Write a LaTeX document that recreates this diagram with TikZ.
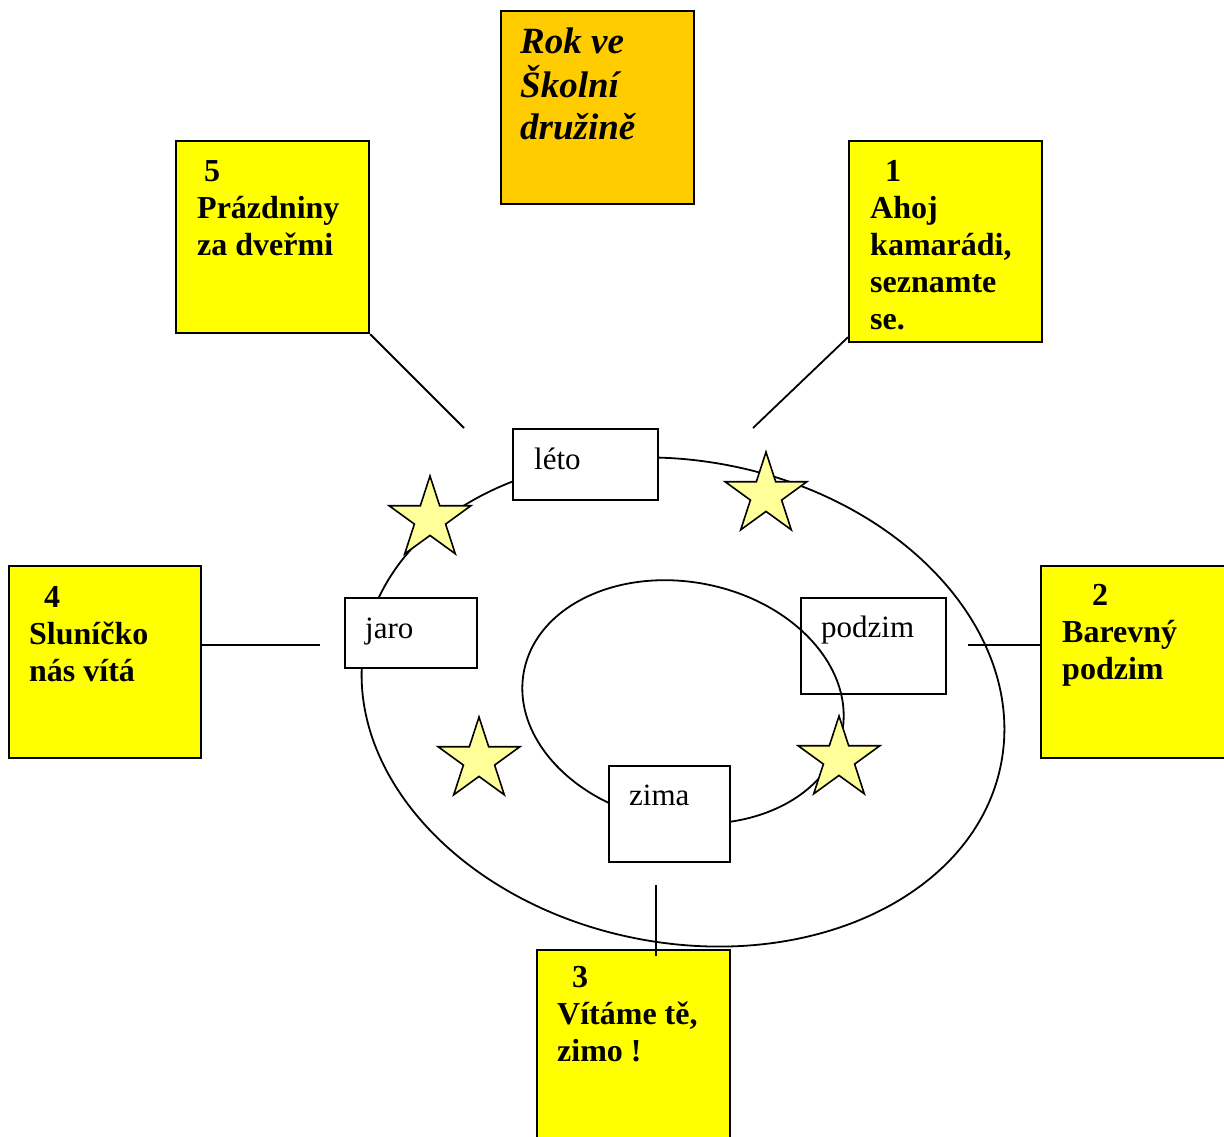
\documentclass[tikz,border=0pt]{standalone}
\usepackage{fontspec}
\setmainfont{Liberation Serif}
\usetikzlibrary{shapes.geometric,calc}
\definecolor{boxyellow}{HTML}{FFFF00}
\definecolor{titleorange}{HTML}{FFCC00}
\definecolor{starfill}{HTML}{FFFF99}
\begin{document}
\begin{tikzpicture}[x=1pt,y=-1pt,
  bigbox/.style={draw, line width=2.2pt, rectangle, inner sep=0pt, anchor=north west, fill=boxyellow},
  smallbox/.style={draw, line width=2pt, rectangle, inner sep=0pt, anchor=north west},
  btext/.style={anchor=base west, inner sep=0pt, align=left, font=\fontsize{32}{37}\selectfont\bfseries},
  ttext/.style={anchor=base west, inner sep=0pt, align=left, font=\fontsize{37}{43}\selectfont\bfseries\itshape},
  lbl/.style={anchor=base west, inner sep=0pt, font=\fontsize{31}{36}\selectfont},
  ring/.style={draw, line width=1.8pt},
  conn/.style={draw, line width=1.8pt},
  starnode/.style={star, star points=5, star point ratio=2.618, minimum size=86pt, inner sep=0pt, draw, line width=1.6pt, fill=starfill}]
\useasboundingbox (0,0) rectangle (1224,1137);
\clip (0,0) rectangle (1224,1137);

% rings
\coordinate (ctr) at (683,702);
\draw[ring, rotate around={-11:(ctr)}] (ctr) ellipse [x radius=324pt, y radius=241pt];
\draw[ring, rotate around={-11:(ctr)}] (ctr) ellipse [x radius=162pt, y radius=120pt];

% title (base anchor = baseline of the last line)
\node[bigbox, fill=titleorange, minimum width=193pt, minimum height=193pt] (title) at (500,10) {};
\node[ttext] (titlet) at ($(title.north west)+(20,44+86)$) {Rok ve\\Školní\\družině};

% yellow boxes
\node[bigbox, minimum width=193pt, minimum height=192pt] (b5) at (175,140) {};
\node[btext] (t5) at ($(b5.north west)+(22,41+74)$) {\hspace*{7pt}5\\Prázdniny\\za dveřmi};

\node[bigbox, minimum width=193pt, minimum height=201pt] (b1) at (848,140) {};
\node[btext] (t1) at ($(b1.north west)+(22,41+148)$) {\hspace*{15pt}1\\Ahoj\\kamarádi,\\seznamte\\se.};

\node[bigbox, minimum width=192pt, minimum height=192pt] (b4) at (8,565) {};
\node[btext] (t4) at ($(b4.north west)+(21,42+74)$) {\hspace*{15pt}4\\Sluníčko\\nás vítá};

\node[bigbox, minimum width=193pt, minimum height=192pt] (b2) at (1040,565) {};
\node[btext] (t2) at ($(b2.north west)+(22,40+74)$) {\hspace*{30pt}2\\Barevný\\podzim};

\node[bigbox, minimum width=193pt, minimum height=200pt] (b3) at (536,949) {};
\node[btext] (t3) at ($(b3.north west)+(21,38+74)$) {\hspace*{15pt}3\\Vítáme tě,\\zimo !};

% season boxes
\node[smallbox, fill=white, minimum width=145pt, minimum height=71pt] (leto) at (512,428) {};
\node[lbl] (letot) at ($(leto.north west)+(22,41)$) {léto};
\node[smallbox, fill=white, minimum width=132pt, minimum height=70pt] (jaro) at (344,597) {};
\node[lbl] (jarot) at ($(jaro.north west)+(21,41)$) {jaro};
\node[smallbox, minimum width=145pt, minimum height=96pt] (podzim) at (800,597) {};
\node[lbl] (podzimt) at ($(podzim.north west)+(21,40)$) {podzim};
\node[smallbox, fill=white, minimum width=121pt, minimum height=96pt] (zima) at (608,765) {};
\node[lbl] (zimat) at ($(zima.north west)+(21,40)$) {zima};

% stars
\node[starnode] (s1) at (430,519) {};
\node[starnode] (s2) at (766,495) {};
\node[starnode] (s3) at (479,760) {};
\node[starnode] (s4) at (839,759) {};

% connectors
\coordinate (e5) at (464,428);
\coordinate (e1) at (753,428);
\coordinate (e4) at (320,645);
\coordinate (e2) at (968,645);
\coordinate (e3a) at (656,885);
\coordinate (e3b) at (656,956);
\draw[conn] (b5.south east) -- (e5);
\draw[conn] ($(b1.south west)+(0,-6)$) -- (e1);
\draw[conn] (b4.east |- e4) -- (e4);
\draw[conn] (b2.west |- e2) -- (e2);
\draw[conn] (e3a) -- (e3b);
\end{tikzpicture}
\end{document}
